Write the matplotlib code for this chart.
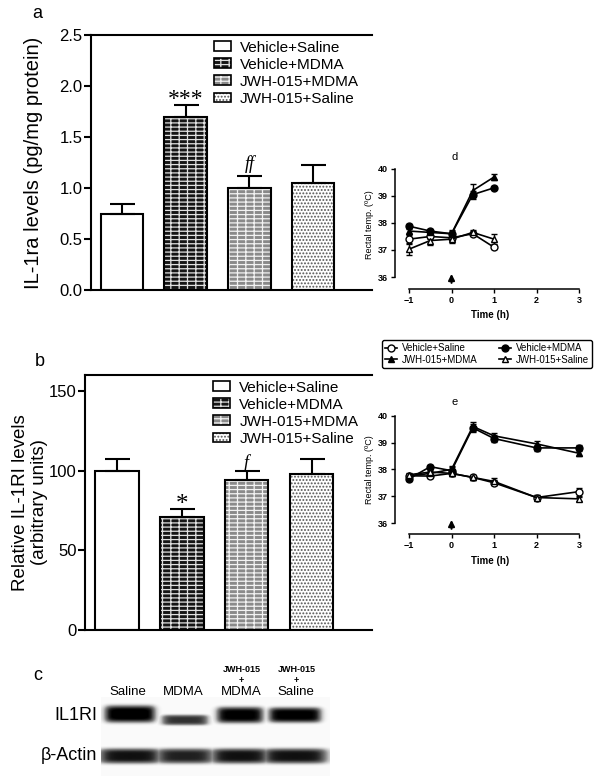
import numpy as np
import matplotlib
matplotlib.use("Agg")
import matplotlib.pyplot as plt
from matplotlib.patches import Patch
from matplotlib.lines import Line2D

plt.rcParams['font.family'] = ['Liberation Sans', 'DejaVu Sans']
plt.rcParams['hatch.linewidth'] = 0.9

# ---- data ----
groups = ["Vehicle+Saline", "Vehicle+MDMA", "JWH-015+MDMA", "JWH-015+Saline"]

il1ra = [0.75, 1.70, 1.00, 1.05]
il1ra_err = [0.09, 0.11, 0.12, 0.18]
il1ra_marks = ["", "***", "ff", ""]

il1ri = [100, 71, 94, 98]
il1ri_err = [7, 5, 6, 9]
il1ri_marks = ["", "*", "f", ""]

# rectal temperature, panel d
time_d = [-1, -0.5, 0, 0.5, 1]
d_veh_sal = [37.4, 37.5, 37.45, 37.6, 37.1]
d_veh_sal_err = [0.15, 0.1, 0.1, 0.1, 0.08]
d_veh_mdma = [37.88, 37.7, 37.6, 39.05, 39.3]
d_veh_mdma_err = [0.1, 0.08, 0.12, 0.15, 0.05]
d_jwh_mdma = [37.7, 37.65, 37.6, 39.2, 39.7]
d_jwh_mdma_err = [0.1, 0.08, 0.15, 0.25, 0.12]
d_jwh_sal = [37.03, 37.35, 37.4, 37.65, 37.4]
d_jwh_sal_err = [0.2, 0.15, 0.15, 0.1, 0.18]

# rectal temperature, panel e
time_e = [-1, -0.5, 0, 0.5, 1, 2, 3]
e_veh_sal = [37.76, 37.75, 37.85, 37.7, 37.5, 36.95, 37.17]
e_veh_sal_err = [0.08, 0.08, 0.08, 0.08, 0.1, 0.08, 0.15]
e_veh_mdma = [37.65, 38.1, 37.95, 39.55, 39.15, 38.8, 38.8]
e_veh_mdma_err = [0.08, 0.08, 0.12, 0.15, 0.12, 0.1, 0.1]
e_jwh_mdma = [37.75, 37.85, 38.0, 39.6, 39.25, 38.95, 38.6]
e_jwh_mdma_err = [0.08, 0.1, 0.12, 0.18, 0.1, 0.12, 0.12]
e_jwh_sal = [37.8, 37.9, 37.85, 37.7, 37.55, 36.95, 36.9]
e_jwh_sal_err = [0.08, 0.08, 0.08, 0.08, 0.12, 0.08, 0.08]

# western blot, relative band density
blot_lanes = ["Saline", "MDMA", "JWH-015\n+\nMDMA", "JWH-015\n+\nSaline"]
band_il1ri = [1.0, 0.8, 0.97, 0.97]
band_actin = [0.9, 0.85, 0.9, 0.9]

# ---- bar styles ----
bar_styles = [
    dict(fc="white", hc="white", hatch=None),
    dict(fc="#151515", hc="#e0e0e0", hatch="----||"),
    dict(fc="#8a8a8a", hc="#f2f2f2", hatch="----||"),
    dict(fc="white", hc="#555555", hatch="....."),
]

W, H = 600, 783
fig = plt.figure(figsize=(6, 7.83), dpi=100)


def px_axes(left, top, right, bottom):
    return fig.add_axes([left / W, 1 - bottom / H, (right - left) / W, (bottom - top) / H])


def bar_panel(ax, vals, errs, marks, ylim, yticks, fmt, ylabel, label_x, ylabel_size, leg_x, mark_off):
    x = np.arange(len(vals))
    for i, st in enumerate(bar_styles):
        ax.bar(x[i], vals[i], width=0.67, color=st["fc"], edgecolor=st["hc"],
               hatch=st["hatch"], linewidth=0, zorder=2)
        ax.bar(x[i], vals[i], width=0.67, facecolor="none", edgecolor="black",
               linewidth=1.5, zorder=3)
    ax.errorbar(x, vals, yerr=[np.zeros(len(errs)), errs], fmt="none", ecolor="black",
                elinewidth=1.5, capsize=9, capthick=1.5, zorder=4)
    for i, m in enumerate(marks):
        if not m:
            continue
        if m.startswith("*"):
            ax.text(x[i], vals[i] + errs[i] + mark_off[0], m, ha="center", va="center",
                    fontsize=17 if len(m) > 1 else 18, family="Liberation Serif")
        else:
            ax.text(x[i], vals[i] + errs[i] + mark_off[1], m, ha="center", va="center",
                    fontsize=13, family="Liberation Serif", style="italic")
    ax.set_ylim(*ylim)
    ax.set_xlim(-0.49, 3.93)
    ax.set_yticks(yticks)
    ax.set_yticklabels([fmt.format(t) for t in yticks], fontsize=12)
    ax.set_xticks([])
    ax.spines["right"].set_visible(False)
    for s in ["left", "bottom", "top"]:
        ax.spines[s].set_linewidth(1.5)
    ax.tick_params(axis="y", length=5, width=1.5, pad=1)
    ax.set_ylabel(ylabel, fontsize=ylabel_size, linespacing=1.15)
    ax.yaxis.set_label_coords(label_x, 0.5)
    handles = [(Patch(facecolor=st["fc"], edgecolor=st["hc"], hatch=st["hatch"], linewidth=0),
                Patch(facecolor="none", edgecolor="black", linewidth=1.2)) for st in bar_styles]
    ax.legend(handles, groups, loc="upper left", bbox_to_anchor=(leg_x, 1.02), frameon=False,
              fontsize=11, handlelength=1.1, handleheight=0.6, labelspacing=0.2,
              handletextpad=0.6, borderaxespad=0.3)


# panel a
ax_a = px_axes(91, 35, 372, 290)
bar_panel(ax_a, il1ra, il1ra_err, il1ra_marks, (0, 2.5), [0, 0.5, 1.0, 1.5, 2.0, 2.5], "{:.1f}",
          "IL-1ra levels (pg/mg protein)", -0.17, 14.5, 0.4, (0.06, 0.11))
fig.text(37 / W, 1 - 14 / H, "a", fontsize=13, ha="center", va="center")

# panel b
ax_b = px_axes(85, 375, 372, 630)
bar_panel(ax_b, il1ri, il1ri_err, il1ri_marks, (0, 160), [0, 50, 100, 150], "{:.0f}",
          "Relative IL-1RI levels\n(arbitrary units)", -0.13, 13.5, 0.41, (2.5, 4.5))
fig.text(40 / W, 1 - 362 / H, "b", fontsize=13, ha="center", va="center")


# temperature panels
def temp_panel(ax, t, series):
    styles = [("o", "white"), ("o", "black"), ("^", "black"), ("^", "white")]
    for (y, e), (mk, mfc) in zip(series, styles):
        ax.errorbar(t, y, yerr=e, fmt="-", color="black", marker=mk, mfc=mfc, mec="black",
                    ms=5, mew=1, lw=1.2, elinewidth=1, capsize=2.5, capthick=1)
    ax.set_xlim(-1.33, 3.14)
    ax.set_xticks([-1, 0, 1, 2, 3])
    ax.set_yticks([36, 37, 38, 39, 40])
    ax.spines["left"].set_bounds(36, 40)
    ax.spines["bottom"].set_bounds(-1, 3)
    ax.spines["right"].set_visible(False)
    ax.spines["top"].set_visible(False)
    for s in ["left", "bottom"]:
        ax.spines[s].set_linewidth(1.1)
    ax.tick_params(length=3, width=1, pad=2, labelsize=6.5)
    for lab in ax.get_xticklabels() + ax.get_yticklabels():
        lab.set_fontweight("bold")
    ax.set_ylabel("Rectal temp. (ºC)", fontsize=6.5, labelpad=3)
    ax.set_xlabel("Time (h)", fontsize=7, fontweight="bold", labelpad=4)
    ax.annotate("", xy=(0, 36.22), xytext=(0, 35.68),
                arrowprops=dict(arrowstyle="-|>", color="black", lw=1.5, mutation_scale=9),
                annotation_clip=False)


ax_d = px_axes(395, 160, 585, 289)
ax_d.set_ylim(35.556, 40.33)
temp_panel(ax_d, time_d, [(d_veh_sal, d_veh_sal_err), (d_veh_mdma, d_veh_mdma_err),
                          (d_jwh_mdma, d_jwh_mdma_err), (d_jwh_sal, d_jwh_sal_err)])
fig.text(455 / W, 1 - 157 / H, "d", fontsize=8, ha="center", va="center")

ax_e = px_axes(395, 405, 585, 534)
ax_e.set_ylim(35.59, 40.4)
temp_panel(ax_e, time_e, [(e_veh_sal, e_veh_sal_err), (e_veh_mdma, e_veh_mdma_err),
                          (e_jwh_mdma, e_jwh_mdma_err), (e_jwh_sal, e_jwh_sal_err)])
fig.text(455 / W, 1 - 402 / H, "e", fontsize=8, ha="center", va="center")

# shared legend for d/e
leg_h = [Line2D([], [], color="black", marker="o", mfc="white", mec="black", ms=5, lw=1.2),
         Line2D([], [], color="black", marker="^", mfc="black", mec="black", ms=5, lw=1.2),
         Line2D([], [], color="black", marker="o", mfc="black", mec="black", ms=5, lw=1.2),
         Line2D([], [], color="black", marker="^", mfc="white", mec="black", ms=5, lw=1.2)]
leg_l = [groups[0], groups[2], groups[1], groups[3]]
leg = fig.legend(leg_h, leg_l, ncol=2, loc="center", bbox_to_anchor=(487 / W, 1 - 354 / H),
                 fontsize=7, handlelength=1.2, handletextpad=0.5, columnspacing=2.2,
                 labelspacing=0.15, borderpad=0.3, fancybox=True, framealpha=1,
                 edgecolor="black")
leg.get_frame().set_linewidth(1.0)

# panel c: western blot
ax_c = px_axes(0, 640, 600, 783)
ax_c.set_xlim(0, 600)
ax_c.set_ylim(783, 640)
ax_c.axis("off")

lane_cx = [130, 185, 240, 295]
lane_w = [50, 46, 46, 52]
xs = np.arange(101, 330) + 0.5
ys = np.arange(697, 776) + 0.5
X, Y = np.meshgrid(xs, ys)
img = np.full(X.shape, 0.04)
il_cy = [714, 720, 715, 715]
il_sd = [9, 5.5, 8.5, 8]


def lane_x(cx, w, soft=2.5):
    return 1 / (1 + np.exp(-(X - (cx - w / 2)) / soft)) / (1 + np.exp((X - (cx + w / 2)) / soft))


for i in range(4):
    band = band_il1ri[i] * lane_x(lane_cx[i], lane_w[i]) * np.exp(-((Y - il_cy[i]) / il_sd[i]) ** 4)
    img = np.maximum(img, band)
    act = band_actin[i] * lane_x(lane_cx[i], lane_w[i] + 12, 4) * np.exp(-((Y - 756) / 8) ** 4)
    img = np.maximum(img, act)
ax_c.imshow(img, cmap="Greys", vmin=0, vmax=0.95, extent=[101, 330, 776, 697],
            interpolation="bicubic", aspect="auto")

for i, lab in enumerate(blot_lanes):
    parts = lab.split("\n")
    if len(parts) == 1:
        ax_c.text(lane_cx[i] - 2, 692, lab, fontsize=9.5, ha="center", va="center")
    else:
        ax_c.text(lane_cx[i] + 2, 669, parts[0], fontsize=6.5, fontweight="bold", ha="center", va="center")
        ax_c.text(lane_cx[i] + 1, 680, parts[1], fontsize=6.5, fontweight="bold", ha="center", va="center")
        ax_c.text(lane_cx[i] + 1, 692, parts[2], fontsize=9.5, ha="center", va="center")
ax_c.text(97, 715, "IL1RI", fontsize=13, ha="right", va="center")
ax_c.text(97, 756, "β-Actin", fontsize=13, ha="right", va="center")
ax_c.text(38, 675, "c", fontsize=13, ha="center", va="center")

fig.savefig("out.png", dpi=100, facecolor="white")
